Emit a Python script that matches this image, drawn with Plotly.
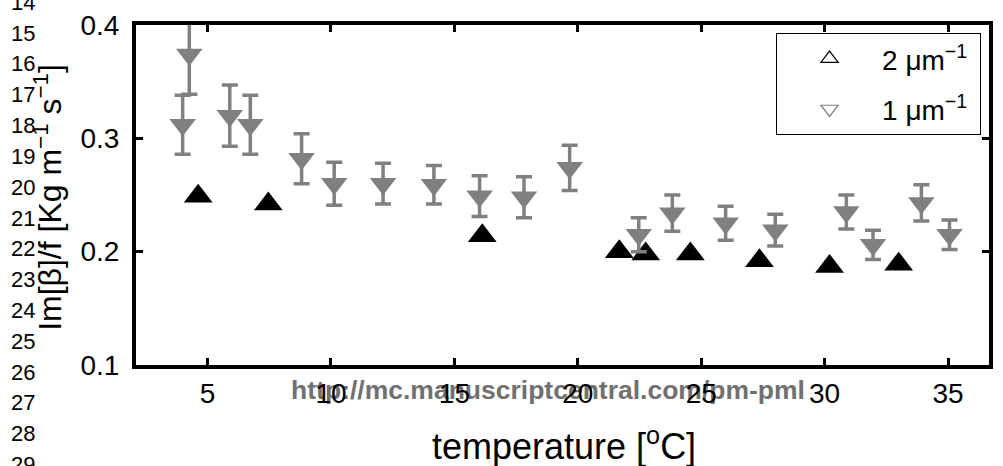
import plotly.graph_objects as go

# ---- data ----
temp_1um = [3.99, 4.26, 5.90, 6.73, 8.81, 10.13, 12.11, 14.17, 16.02, 17.82,
            19.67, 22.47, 23.83, 25.99, 28.00, 30.88, 31.96, 33.92, 35.06]
val_1um = [0.312, 0.374, 0.320, 0.312, 0.282, 0.260, 0.260, 0.259, 0.249, 0.248,
           0.274, 0.215, 0.234, 0.225, 0.219, 0.235, 0.206, 0.243, 0.215]
err_1um = [0.026, 0.035, 0.027, 0.026, 0.022, 0.019, 0.018, 0.017, 0.018, 0.018,
           0.020, 0.015, 0.016, 0.015, 0.014, 0.015, 0.013, 0.016, 0.013]

temp_2um = [4.62, 7.46, 16.13, 21.68, 22.75, 24.56, 27.36, 30.20, 33.00]
val_2um = [0.249, 0.242, 0.214, 0.200, 0.198, 0.198, 0.192, 0.187, 0.189]

x_ticks = [5, 10, 15, 20, 25, 30, 35]
y_ticks = [0.1, 0.2, 0.3, 0.4]
line_numbers = list(range(14, 30))

FONT = "Liberation Sans, Arial, Helvetica, sans-serif"
GRAY = "#808080"

# plot-area geometry (px) in a 1003x466 page
W, H = 1003, 466
L, R, T, B = 136, 993, 20, 365

def px_x(p):
    return (p - L) / (R - L)

def px_y(p):
    return (B - p) / (B - T)

fig = go.Figure()

fig.add_trace(go.Scatter(
    x=temp_2um, y=val_2um, mode="markers", showlegend=False,
    marker=dict(symbol="triangle-up", size=25, color="black", line=dict(width=0)),
))
fig.add_trace(go.Scatter(
    x=temp_1um, y=val_1um, mode="markers", showlegend=False,
    marker=dict(symbol="triangle-down", size=23, color=GRAY, line=dict(width=0)),
    error_y=dict(type="data", array=err_1um, visible=True, color=GRAY,
                 thickness=3.5, width=8),
))
# legend entries (open symbols as in the reference legend)
fig.add_trace(go.Scatter(
    x=[None], y=[None], mode="markers", name="2 μm<sup>−1</sup>\u00a0", legendgroup="a",
    marker=dict(symbol="triangle-up-open", size=15, color="black", line=dict(width=1.2)),
))
fig.add_trace(go.Scatter(
    x=[None], y=[None], mode="markers", name="1 μm<sup>−1</sup>\u00a0", legendgroup="b",
    marker=dict(symbol="triangle-down-open", size=15, color=GRAY, line=dict(width=1.2)),
))

axis_common = dict(
    showline=True, linewidth=4, linecolor="black", mirror="ticks",
    ticks="inside", ticklen=7, tickwidth=3, tickcolor="black",
    showgrid=False, zeroline=False,
    tickfont=dict(family=FONT, size=28, color="black"),
)

fig.update_xaxes(range=[2.1, 36.66], tickmode="array", tickvals=x_ticks,
                 ticklabelstandoff=0, **axis_common)
fig.update_yaxes(range=[0.1, 0.4], tickmode="array", tickvals=y_ticks,
                 tickformat=".1f", ticklabelstandoff=7, **axis_common)

annotations = []
# axis titles
annotations.append(dict(
    text="temperature [<sup>o</sup>C]", xref="paper", yref="paper",
    x=px_x(566), y=px_y(445), xanchor="center", yanchor="middle",
    showarrow=False, font=dict(family=FONT, size=36, color="black"),
))
annotations.append(dict(
    text="Im[β]/f [Kg m<sup>−1</sup> s<sup>−1</sup>]", xref="paper", yref="paper",
    x=px_x(48), y=px_y(195), xanchor="center", yanchor="middle", textangle=-90,
    showarrow=False, font=dict(family=FONT, size=32, color="black"),
))
# manuscript line numbers in the left margin
for n in line_numbers:
    annotations.append(dict(
        text=str(n), xref="paper", yref="paper",
        x=px_x(22), y=px_y(-3 + (n - 14) * 31.27), xanchor="center", yanchor="middle",
        showarrow=False, font=dict(family=FONT, size=22, color="black"),
    ))

shapes = [dict(
    type="rect", xref="paper", yref="paper", layer="below",
    x0=px_x(285), x1=px_x(815), y0=px_y(400), y1=px_y(376),
    line=dict(width=0), fillcolor="rgba(0,0,0,0)",
    label=dict(text="http://mc.manuscriptcentral.com/pm-pml",
               textposition="middle center",
               font=dict(family=FONT, size=26.5, color="#707070", weight="bold")),
)]

fig.update_layout(
    width=W, height=H,
    margin=dict(l=L, r=W - R, t=T, b=H - B, pad=0),
    paper_bgcolor="white", plot_bgcolor="white",
    annotations=annotations, shapes=shapes,
    showlegend=True,
    legend=dict(
        x=px_x(985), xanchor="right", y=px_y(28), yanchor="top",
        bordercolor="black", borderwidth=1, bgcolor="white",
        font=dict(family=FONT, size=28, color="black"),
        itemwidth=95, tracegroupgap=11, traceorder="grouped",
        itemsizing="trace",
    ),
)

fig.write_html(
    "out.html",
    config={"displayModeBar": False},
    post_script="document.body.style.margin='0px';document.body.style.overflow='hidden';",
)
